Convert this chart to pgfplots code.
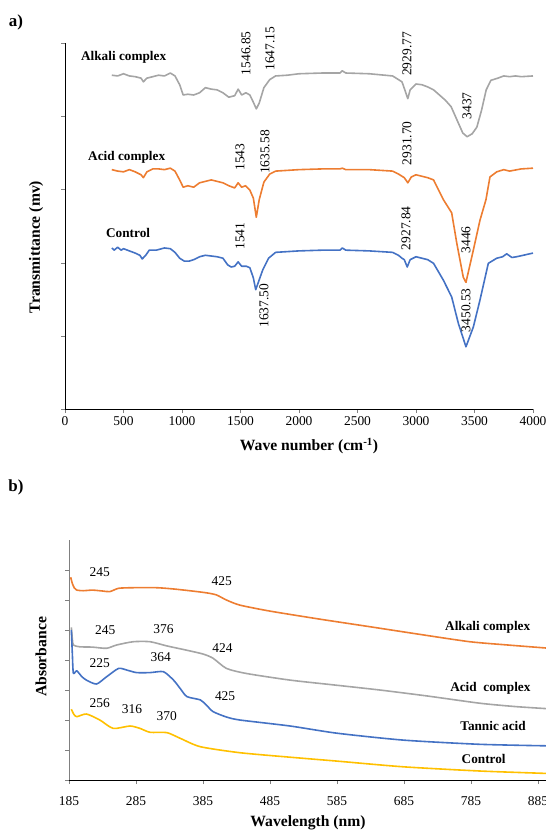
\documentclass[border=0pt]{standalone}
\usepackage{pgfplots}
\pgfplotsset{compat=1.18}
\usepackage{fontspec}
\setmainfont{Liberation Serif}

\definecolor{xlgray}{HTML}{A5A5A5}
\definecolor{xlorange}{HTML}{ED7D31}
\definecolor{xlblue}{HTML}{4472C4}
\definecolor{xlgold}{HTML}{FFC000}

\newcommand\numfont{\fontsize{13.5}{15}\selectfont}
\newcommand\namefont{\bfseries\fontsize{13.3}{15}\selectfont}
\newcommand\titlefont{\bfseries\fontsize{15.7}{18}\selectfont}

\pgfplotsset{
  spec/.style={scale only axis, clip=false,
    axis x line*=bottom, axis y line*=left,
    tick align=outside, major tick length=4bp,
    yticklabels={},
    /pgf/number format/assume math mode=true,
    /pgf/number format/set thousands separator={},
    tick label style={font=\numfont},
    every axis plot/.append style={line width=1.6bp, no markers, line join=round}},
}

\begin{document}
\begin{tikzpicture}
\useasboundingbox (0,0) rectangle (546bp,-833bp);

% ---- a) FTIR
\begin{axis}[spec, at={(65bp,-409bp)}, anchor=south west,
  width=468bp, height=366bp,
  xmin=0, xmax=4000, ymin=0, ymax=5,
  xtick={0,500,...,4000}, ytick={0,...,5}]
\addplot[xlgray] coordinates {(400,4.56)(450,4.55)(500,4.58)(550,4.55)(600,4.54)(650,4.52)(670,4.47)(700,4.52)(750,4.54)(800,4.56)(850,4.55)(900,4.59)(940,4.55)(980,4.43)(1010,4.29)(1050,4.30)(1100,4.29)(1150,4.32)(1200,4.39)(1250,4.37)(1300,4.36)(1350,4.32)(1400,4.26)(1450,4.28)(1480,4.37)(1510,4.29)(1546,4.32)(1580,4.29)(1610,4.19)(1635,4.10)(1660,4.18)(1700,4.39)(1750,4.50)(1800,4.55)(1900,4.56)(2000,4.58)(2200,4.59)(2350,4.59)(2370,4.62)(2400,4.59)(2600,4.58)(2800,4.55)(2850,4.50)(2880,4.47)(2900,4.38)(2930,4.24)(2950,4.36)(3000,4.44)(3050,4.43)(3100,4.40)(3150,4.36)(3200,4.29)(3250,4.22)(3300,4.13)(3350,3.95)(3400,3.77)(3437,3.72)(3480,3.76)(3520,3.85)(3560,4.08)(3600,4.36)(3640,4.49)(3700,4.52)(3750,4.55)(3800,4.54)(3850,4.55)(3900,4.54)(4000,4.55)};
\addplot[xlorange] coordinates {(400,3.27)(450,3.25)(500,3.24)(550,3.27)(600,3.24)(650,3.20)(670,3.16)(700,3.24)(750,3.28)(800,3.28)(850,3.27)(900,3.29)(940,3.25)(980,3.13)(1010,3.03)(1050,3.05)(1100,3.03)(1150,3.09)(1200,3.11)(1250,3.13)(1300,3.11)(1350,3.09)(1400,3.05)(1450,3.02)(1480,3.09)(1510,3.03)(1543,3.05)(1580,2.99)(1610,2.88)(1635,2.62)(1660,2.86)(1700,3.10)(1750,3.21)(1800,3.25)(2000,3.27)(2200,3.28)(2350,3.28)(2370,3.29)(2400,3.27)(2600,3.27)(2800,3.25)(2850,3.21)(2900,3.16)(2930,3.09)(2960,3.17)(3000,3.20)(3100,3.16)(3150,3.13)(3234,2.86)(3305,2.68)(3348,2.27)(3404,1.80)(3427,1.73)(3490,2.17)(3547,2.58)(3598,2.86)(3632,3.17)(3690,3.24)(3750,3.27)(3800,3.25)(3900,3.28)(4000,3.29)};
\addplot[xlblue] coordinates {(400,2.20)(420,2.17)(450,2.21)(480,2.17)(500,2.19)(550,2.16)(600,2.13)(640,2.10)(660,2.05)(690,2.10)(720,2.17)(780,2.17)(850,2.20)(900,2.19)(940,2.14)(980,2.06)(1020,2.02)(1060,2.02)(1100,2.04)(1150,2.08)(1200,2.10)(1250,2.09)(1300,2.08)(1350,2.06)(1390,1.97)(1420,1.94)(1450,1.95)(1480,2.01)(1510,1.95)(1550,1.95)(1580,1.93)(1610,1.79)(1630,1.63)(1650,1.72)(1690,1.90)(1740,2.06)(1800,2.14)(2000,2.16)(2200,2.17)(2350,2.17)(2370,2.20)(2400,2.17)(2600,2.16)(2800,2.14)(2850,2.10)(2880,2.06)(2900,2.04)(2925,1.94)(2950,2.04)(3000,2.08)(3050,2.06)(3100,2.04)(3150,1.99)(3234,1.76)(3305,1.53)(3362,1.17)(3427,0.85)(3490,1.12)(3547,1.49)(3618,1.99)(3690,2.06)(3740,2.08)(3775,2.12)(3820,2.07)(3860,2.08)(4000,2.13)};
\node[font=\numfont,rotate=90] at (axis cs:1547,4.86) {1546.85};
\node[font=\numfont,rotate=90] at (axis cs:1752,4.92) {1647.15};
\node[font=\numfont,rotate=90] at (axis cs:2923,4.85) {2929.77};
\node[font=\numfont,rotate=90] at (axis cs:3436,4.14) {3437};
\node[font=\numfont,rotate=90] at (axis cs:1496,3.44) {1543};
\node[font=\numfont,rotate=90] at (axis cs:1709,3.51) {1635.58};
\node[font=\numfont,rotate=90] at (axis cs:2923,3.63) {2931.70};
\node[font=\numfont,rotate=90] at (axis cs:1496,2.36) {1541};
\node[font=\numfont,rotate=90] at (axis cs:1701,1.41) {1637.50};
\node[font=\numfont,rotate=90] at (axis cs:2915,2.47) {2927.84};
\node[font=\numfont,rotate=90] at (axis cs:3427,2.31) {3446};
\node[font=\numfont,rotate=90] at (axis cs:3427,1.35) {3450.53};
\node[font=\namefont,anchor=west,inner sep=0pt] at (axis cs:136,4.80) {Alkali complex};
\node[font=\namefont,anchor=west,inner sep=0pt] at (axis cs:197,3.44) {Acid complex};
\node[font=\namefont,anchor=west,inner sep=0pt] at (axis cs:350,2.40) {Control};
\end{axis}

% ---- b) UV-Vis
\begin{axis}[spec, at={(69bp,-780bp)}, anchor=south west,
  width=477bp, height=240bp,
  xmin=185, xmax=897, ymin=0, ymax=8,
  xtick={185,285,...,885}, ytick={0,...,7},
  y axis line style={gray}, ytick style={gray},
  xticklabel style={yshift=-9bp}]
\addplot[xlorange,smooth,tension=0.4] coordinates {(187.5,6.76)(190,6.55)(193,6.40)(196.5,6.33)(206,6.31)(220,6.33)(235,6.30)(246,6.28)(259,6.39)(280,6.41)(316,6.41)(340,6.37)(365,6.31)(390,6.24)(405,6.17)(420,6.00)(440,5.83)(485,5.63)(560,5.36)(634,5.11)(710,4.85)(783,4.61)(840,4.50)(897,4.40)};
\addplot[xlgray,smooth,tension=0.4] coordinates {(188.5,5.09)(190,4.70)(191.5,4.50)(201,4.44)(220,4.43)(241,4.39)(256,4.50)(281,4.61)(306,4.61)(331,4.47)(360,4.33)(385,4.20)(400,4.06)(420,3.72)(450,3.55)(515,3.33)(580,3.17)(649,3.00)(720,2.80)(798,2.56)(850,2.45)(897,2.38)};
\addplot[xlblue,smooth,tension=0.4] coordinates {(188.5,5.00)(190,4.20)(191.5,3.56)(196.5,3.64)(204,3.45)(211,3.33)(226,3.20)(241,3.44)(259,3.72)(272,3.66)(286,3.58)(306,3.58)(326,3.61)(341,3.33)(351,3.05)(361,2.78)(381,2.67)(390,2.50)(400,2.28)(420,2.10)(440,2.00)(515,1.80)(585,1.56)(684,1.33)(798,1.19)(897,1.14)};
\addplot[xlgold,smooth,tension=0.4] coordinates {(188.5,2.36)(192,2.20)(196.5,2.11)(211,2.20)(231,2.00)(251,1.72)(276,1.80)(291,1.72)(306,1.59)(331,1.58)(351,1.39)(381,1.11)(440,0.91)(515,0.76)(585,0.63)(684,0.44)(798,0.30)(897,0.22)};
\node[font=\numfont] at (axis cs:231,6.93) {245};
\node[font=\numfont] at (axis cs:413,6.64) {425};
\node[font=\numfont] at (axis cs:239,5.00) {245};
\node[font=\numfont] at (axis cs:326,5.02) {376};
\node[font=\numfont] at (axis cs:414,4.41) {424};
\node[font=\numfont] at (axis cs:231,3.89) {225};
\node[font=\numfont] at (axis cs:322,4.09) {364};
\node[font=\numfont] at (axis cs:418,2.78) {425};
\node[font=\numfont] at (axis cs:231,2.56) {256};
\node[font=\numfont] at (axis cs:279,2.37) {316};
\node[font=\numfont] at (axis cs:331,2.14) {370};
\node[font=\namefont] at (axis cs:810,5.10) {Alkali complex};
\node[font=\namefont] at (axis cs:814,3.06) {Acid\ \ complex};
\node[font=\namefont] at (axis cs:818,1.80) {Tannic acid};
\node[font=\namefont] at (axis cs:804,0.69) {Control};
\end{axis}

% titles and panel letters
\node[font=\titlefont] at (309bp,-446bp) {Wave number (cm\textsuperscript{-1})};
\node[font=\titlefont,rotate=90] at (36bp,-247bp) {Transmittance (mv)};
\node[font=\titlefont] at (308bp,-823bp) {Wavelength (nm)};
\node[font=\titlefont,rotate=90] at (41bp,-657bp) {Absorbance};
\node[font=\bfseries\fontsize{17}{19}\selectfont] at (16bp,-22bp) {a)};
\node[font=\bfseries\fontsize{17}{19}\selectfont] at (16bp,-487bp) {b)};
\end{tikzpicture}
\end{document}
